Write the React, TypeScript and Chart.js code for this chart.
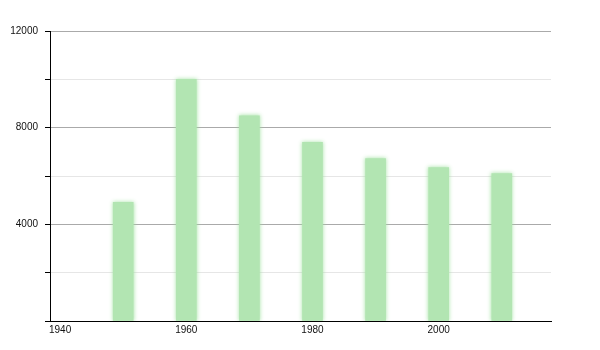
import React, { useEffect, useRef } from "react";
import { Chart, registerables } from "chart.js";

Chart.register(...registerables);

const years = [1950, 1960, 1970, 1980, 1990, 2000, 2010];
const population = [4910, 10000, 8490, 7390, 6720, 6350, 6100];
const xTicks = [1940, 1960, 1980, 2000];
const yLabelTicks = [4000, 8000, 12000];

export default function App() {
  const ref = useRef<HTMLCanvasElement | null>(null);

  useEffect(() => {
    if (!ref.current) return;
    const shadowPlugin = {
      id: "barShadow",
      beforeDatasetsDraw(chart: any) {
        const ctx = chart.ctx;
        ctx.save();
        ctx.shadowColor = "rgba(160,225,160,0.9)";
        ctx.shadowBlur = 4;
      },
      afterDatasetsDraw(chart: any) {
        chart.ctx.restore();
      },
    };
    const chart = new Chart(ref.current, {
      type: "bar",
      data: {
        datasets: [
          {
            data: years.map((y, i) => ({ x: y, y: population[i] })),
            backgroundColor: "#b2e5b2",
            borderWidth: 0,
            barThickness: 20,
          },
        ],
      },
      options: {
        animation: false,
        responsive: false,
        maintainAspectRatio: false,
        layout: { padding: { left: 0, right: 49, top: 31, bottom: 0 } },
        plugins: { legend: { display: false }, tooltip: { enabled: false } },
        scales: {
          x: {
            type: "linear",
            min: 1938.4,
            max: 2017.8,
            offset: false,
            grid: { display: false, drawTicks: false, tickLength: 0 },
            border: { display: true, color: "#000", width: 1 },
            afterBuildTicks: (scale: any) => {
              scale.ticks = xTicks.map((v) => ({ value: v }));
            },
            afterFit: (scale: any) => {
              scale.height = 29;
            },
            ticks: {
              color: "#111",
              font: { family: "'Liberation Sans', Arial, sans-serif", size: 10 },
              padding: 3,
              maxRotation: 0,
              autoSkip: false,
              callback: (v: any) => String(v),
            },
          },
          y: {
            min: 0,
            max: 12000,
            afterBuildTicks: (scale: any) => {
              const t: any[] = [];
              for (let v = 0; v <= 12000; v += 2000) t.push({ value: v });
              scale.ticks = t;
            },
            afterFit: (scale: any) => {
              scale.width = 50;
            },
            grid: {
              color: (c: any) =>
                c.tick && yLabelTicks.includes(c.tick.value) ? "#aaaaaa" : "#e6e6e6",
              tickColor: "#000",
              tickLength: 5,
              drawTicks: true,
            },
            border: { display: true, color: "#000", width: 1 },
            ticks: {
              color: "#111",
              font: { family: "'Liberation Sans', Arial, sans-serif", size: 10 },
              padding: 7,
              autoSkip: false,
              callback: (v: any) => (yLabelTicks.includes(v) ? String(v) : ""),
            },
          },
        },
      },
      plugins: [shadowPlugin],
    });
    return () => chart.destroy();
  }, []);

  return (
    <div style={{ position: "absolute", left: 0, top: 0, width: 600, height: 350, background: "#fff" }}>
      <canvas ref={ref} width={600} height={350} style={{ width: 600, height: 350 }} />
    </div>
  );
}
